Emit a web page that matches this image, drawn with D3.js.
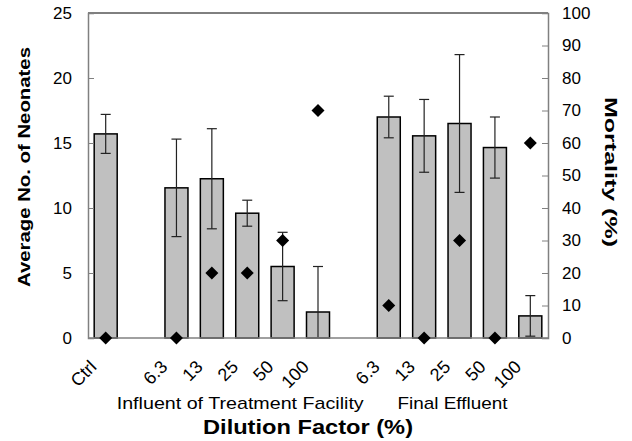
<!DOCTYPE html>
<html><head><meta charset="utf-8">
<script src="https://cdn.jsdelivr.net/npm/d3@7"></script>
<style>
html,body{margin:0;padding:0;background:#fff;}
text{font-family:"Liberation Sans",Arial,sans-serif;fill:#000;}
</style></head>
<body><svg id="chart" width="632" height="441"></svg>
<script>
const categories = ["Ctrl", "", "6.3", "13", "25", "50", "100", "", "6.3", "13", "25", "50", "100"];
const neonates   = [15.7, null, 11.55, 12.25, 9.6, 5.5, 2.0, null, 17.0, 15.55, 16.5, 14.65, 1.7];
const neonateErr = [1.5, null, 3.75, 3.85, 1.0, 2.63, 3.5, null, 1.6, 2.8, 5.3, 2.35, 1.56];
const mortality  = [0, null, 0, 20, 20, 30, 70, null, 10, 0, 30, 0, 60];
const leftTicks  = [0, 5, 10, 15, 20, 25];
const rightTicks = [0, 10, 20, 30, 40, 50, 60, 70, 80, 90, 100];
const groupLabels = ["Influent of Treatment Facility", "Final Effluent"];
const groupSlots  = [[2, 6], [8, 12]];

const svg = d3.select("#chart");
const L = 88, R = 548, T = 13, B = 338;

const x = d3.scaleBand().domain(d3.range(categories.length)).range([L, R])
  .paddingInner(0.35).paddingOuter(0.175);
const y = d3.scaleLinear().domain([0, 25]).range([B, T]);
const y2 = d3.scaleLinear().domain([0, 100]).range([B, T]);
const cx = i => x(i) + x.bandwidth() / 2;

svg.append("defs").append("clipPath").attr("id", "plotclip")
  .append("rect").attr("x", L).attr("y", T).attr("width", R - L).attr("height", B - T);

// top border
svg.append("line").attr("x1", L).attr("x2", R).attr("y1", T).attr("y2", T)
  .attr("stroke", "#000").attr("stroke-width", 1);

const idx = d3.range(categories.length).filter(i => neonates[i] != null);

// bars
svg.append("g").selectAll("rect").data(idx).join("rect")
  .attr("x", i => x(i)).attr("width", x.bandwidth())
  .attr("y", i => y(neonates[i])).attr("height", i => y(0) - y(neonates[i]))
  .attr("fill", "#c0c0c0").attr("stroke", "#000").attr("stroke-width", 1.5);

// error bars
const eg = svg.append("g").attr("clip-path", "url(#plotclip)")
  .attr("stroke", "#222").attr("stroke-width", 1.2);
idx.forEach(i => {
  const hi = neonates[i] + neonateErr[i], lo = neonates[i] - neonateErr[i];
  eg.append("line").attr("x1", cx(i)).attr("x2", cx(i)).attr("y1", y(hi)).attr("y2", y(lo));
  [hi, lo].forEach(v => eg.append("line").attr("x1", cx(i) - 5).attr("x2", cx(i) + 5)
    .attr("y1", y(v)).attr("y2", y(v)));
});

// axes
const axL = d3.axisLeft(y).tickValues(leftTicks).tickSize(-6).tickPadding(16);
const gL = svg.append("g").attr("transform", `translate(${L},0)`).call(axL);
const axR = d3.axisRight(y2).tickValues(rightTicks).tickSize(-6).tickPadding(14);
const gR = svg.append("g").attr("transform", `translate(${R},0)`).call(axR);
const axB = d3.axisBottom(x).tickSize(0).tickFormat(() => "");
const gB = svg.append("g").attr("transform", `translate(0,${B})`).call(axB);
[gL, gR, gB].forEach(g => {
  g.select(".domain").attr("stroke", "#808080").attr("stroke-width", 1.5);
  g.selectAll(".tick line").attr("stroke", "#808080");
  g.selectAll(".tick text").attr("font-size", 17).attr("font-family", "Liberation Sans, Arial, sans-serif");
});
gB.select(".domain").attr("d", `M${L},0H${R}`);

// diamonds
const ds = 6.5;
svg.append("g").selectAll("path").data(idx).join("path")
  .attr("d", i => {
    const px = cx(i), py = y2(mortality[i]);
    return `M${px},${py - ds}L${px + ds},${py}L${px},${py + ds}L${px - ds},${py}Z`;
  })
  .attr("fill", "#000");

// category labels
svg.append("g").selectAll("text").data(d3.range(categories.length).filter(i => categories[i]))
  .join("text")
  .attr("transform", i => `translate(${cx(i) - 8},${B + 30}) rotate(-45)`)
  .attr("text-anchor", "end").attr("font-size", 18)
  .text(i => categories[i]);

// group labels
const groupWidths = [247, 110];
svg.append("g").selectAll("text").data(groupLabels).join("text")
  .attr("x", (d, k) => (cx(groupSlots[k][0]) + cx(groupSlots[k][1])) / 2 - 7 - groupWidths[k] / 2)
  .attr("y", 409).attr("font-size", 17)
  .attr("textLength", (d, k) => groupWidths[k]).attr("lengthAdjust", "spacingAndGlyphs")
  .text(d => d);

// axis titles
svg.append("text").attr("x", 308 - 105).attr("y", 434)
  .attr("font-size", 20).attr("font-weight", "bold")
  .attr("textLength", 210).attr("lengthAdjust", "spacingAndGlyphs")
  .text("Dilution Factor (%)");
svg.append("text").attr("transform", `translate(30,${167 + 120}) rotate(-90)`)
  .attr("font-size", 17).attr("font-weight", "bold")
  .attr("textLength", 240).attr("lengthAdjust", "spacingAndGlyphs")
  .text("Average No. of Neonates");
svg.append("text").attr("transform", `translate(605,${172 - 75}) rotate(90)`)
  .attr("font-size", 17).attr("font-weight", "bold")
  .attr("textLength", 150).attr("lengthAdjust", "spacingAndGlyphs")
  .text("Mortality (%)");
</script></body></html>
